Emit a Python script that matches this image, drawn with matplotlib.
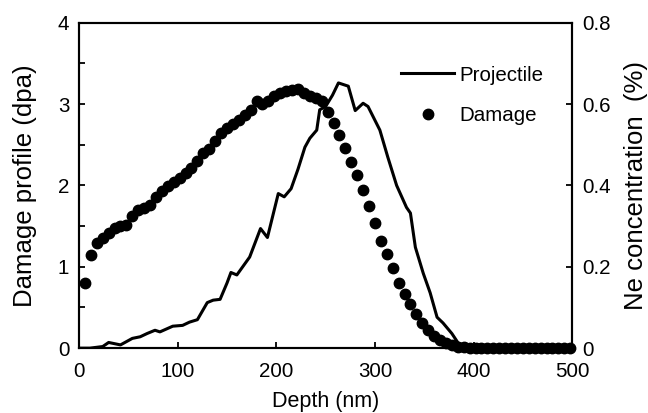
import matplotlib
matplotlib.use("Agg")
from matplotlib import pyplot as plt
from matplotlib.lines import Line2D
from matplotlib.ticker import MultipleLocator, FixedLocator

plt.rcParams["font.family"] = ["Liberation Sans", "DejaVu Sans"]

# damage profile (dpa), one point every ~6 nm
damage_depth = [
    6, 12, 18, 24, 30, 36, 42, 48, 54, 60, 66, 72, 78, 84, 90, 96,
    102, 108, 114, 120, 126, 132, 138, 144, 150, 156, 162, 168, 174, 180,
    186, 192, 198, 204, 210, 216, 222, 228, 234, 240, 246, 252, 258, 264,
    270, 276, 282, 288, 294, 300, 306, 312, 318, 324, 330, 336, 342, 348,
    354, 360, 366, 372, 378, 384, 390, 396, 402, 408, 414, 420, 426, 432,
    438, 444, 450, 456, 462, 468, 474, 480, 486, 492, 498,
]
damage_dpa = [
    0.80, 1.14, 1.29, 1.36, 1.42, 1.48, 1.50, 1.51, 1.62, 1.70, 1.72, 1.76,
    1.86, 1.93, 1.99, 2.04, 2.09, 2.15, 2.22, 2.30, 2.40, 2.45, 2.55, 2.64,
    2.70, 2.76, 2.80, 2.86, 2.93, 3.04, 3.00, 3.04, 3.10, 3.14, 3.16, 3.17,
    3.19, 3.14, 3.10, 3.07, 3.04, 2.90, 2.77, 2.62, 2.46, 2.29, 2.13, 1.94,
    1.75, 1.54, 1.32, 1.16, 0.99, 0.80, 0.66, 0.54, 0.42, 0.31, 0.22, 0.15,
    0.10, 0.06, 0.04, 0.02, 0.01, 0.005, 0, 0, 0, 0, 0, 0, 0, 0, 0, 0, 0, 0,
    0, 0, 0, 0, 0,
]

# implanted Ne (projectile) concentration, %
proj_depth = [
    0, 11, 24, 30, 42, 54, 62, 69, 77, 82, 95, 105, 112, 120, 130, 136,
    143, 150, 154, 160, 173, 184, 191, 202, 208, 215, 222, 229, 234, 241,
    244, 250, 257, 263, 273, 280, 288, 293, 305, 313, 322, 332, 336, 341,
    349, 356, 363, 369, 378, 384, 390, 395, 500,
]
proj_conc = [
    0, 0.0, 0.004, 0.014, 0.008, 0.024, 0.028, 0.036, 0.044, 0.040, 0.054,
    0.056, 0.064, 0.070, 0.112, 0.118, 0.120, 0.160, 0.186, 0.180, 0.224,
    0.294, 0.272, 0.380, 0.372, 0.392, 0.440, 0.494, 0.516, 0.536, 0.586,
    0.594, 0.622, 0.652, 0.644, 0.584, 0.602, 0.594, 0.536, 0.470, 0.400,
    0.346, 0.332, 0.248, 0.184, 0.136, 0.076, 0.062, 0.036, 0.014, 0.002,
    0, 0,
]

FS = 14.8
YFS = 18.5

fig = plt.figure(figsize=(6.48, 4.13), dpi=100)
ax = fig.add_axes([0.122, 0.157, 0.761, 0.788])
ax2 = ax.twinx()

ax2.plot(proj_depth, proj_conc, color="black", lw=2.2, zorder=2)
ax.plot(damage_depth, damage_dpa, "o", color="black", ms=7.5,
        mec="black", clip_on=False, zorder=3)
ax.set_zorder(ax2.get_zorder() + 1)
ax.patch.set_visible(False)

ax.set_xlim(0, 500)
ax.set_ylim(0, 4)
ax2.set_ylim(0, 0.8)

ax.xaxis.set_major_locator(MultipleLocator(100))
ax.yaxis.set_major_locator(MultipleLocator(1))
ax.yaxis.set_minor_locator(MultipleLocator(0.5))
ax2.yaxis.set_major_locator(FixedLocator([0, 0.2, 0.4, 0.6, 0.8]))
ax2.set_yticklabels(["0", "0.2", "0.4", "0.6", "0.8"])

ax.tick_params(axis="both", which="both", direction="in", labelsize=FS,
               width=1.3, length=4.5, top=False, right=False)
ax.tick_params(axis="x", pad=10)
ax.tick_params(axis="y", pad=7)
ax2.tick_params(axis="y", direction="in", labelsize=FS, width=1.3,
                length=4.5, pad=7)

for a in (ax, ax2):
    for s in a.spines.values():
        s.set_linewidth(1.5)

ax.set_xlabel("Depth (nm)", fontsize=FS + 0.7, labelpad=7)
ax.set_ylabel("Damage profile (dpa)", fontsize=YFS, labelpad=15)
ax2.set_ylabel("Ne concentration  (%)", fontsize=YFS, labelpad=10)

handles = [
    Line2D([], [], color="black", lw=2.2),
    Line2D([], [], ls="none", marker="o", color="black", ms=7.5),
]
ax.legend(handles, ["Projectile", "Damage"], loc="upper left",
          bbox_to_anchor=(0.615, 0.925), frameon=False, fontsize=FS,
          handlelength=2.6, handletextpad=0.25, labelspacing=1.05)

fig.savefig("out.png", dpi=100)
